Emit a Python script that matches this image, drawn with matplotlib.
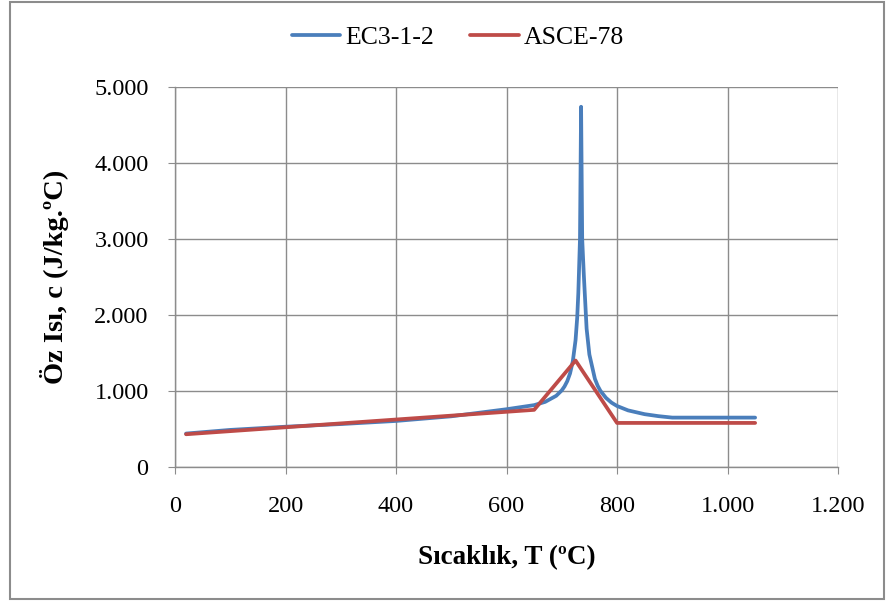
import matplotlib
matplotlib.use("Agg")
import matplotlib.pyplot as plt
from matplotlib.patches import Rectangle
from matplotlib.ticker import FuncFormatter

# temperature (C) and specific heat (J/kg.C)
ec3_T = [20, 100, 200, 300, 400, 500, 600, 650, 670, 690, 700, 705, 710, 715, 720, 725, 728,
         730, 733, 735, 737, 740, 745, 750, 760, 765, 770, 780, 790, 800, 820, 850, 875, 900, 1050]
ec3_c = [440, 488, 530, 565, 606, 667, 760, 814, 857, 937, 1008, 1060, 1130, 1231, 1390, 1670, 1970,
         2290, 3000, 4740, 3000, 2520, 1820, 1480, 1160, 1069, 1002, 910, 847, 803, 745, 695, 669, 650, 650]

asce_T = [20, 650, 725, 800, 1050]
asce_c = [431, 752, 1401, 580, 580]

x_ticks = [0, 200, 400, 600, 800, 1000, 1200]
y_ticks = [0, 1000, 2000, 3000, 4000, 5000]

plt.rcParams['font.family'] = ['Liberation Serif', 'DejaVu Serif']

W, H = 888, 603
fig = plt.figure(figsize=(W / 100, H / 100), dpi=100)
ax = fig.add_axes([175 / W, 1 - 467 / H, (838 - 175) / W, (467 - 87) / H])

ax.plot(ec3_T, ec3_c, color='#4A7EBB', lw=2.7, label='EC3-1-2', solid_capstyle='round')
ax.plot(asce_T, asce_c, color='#BE4B48', lw=2.7, label='ASCE-78', solid_capstyle='round')

ax.set_xlim(0, 1200)
ax.set_ylim(0, 5000)
ax.set_xticks(x_ticks)
ax.set_yticks(y_ticks)

# Turkish thousands separator
fmt = FuncFormatter(lambda v, p: f"{int(v):,}".replace(",", "."))
ax.xaxis.set_major_formatter(fmt)
ax.yaxis.set_major_formatter(fmt)

ax.grid(True, color='#8c8c8c', lw=1.0)
ax.set_axisbelow(True)
for s in ['top', 'right']:
    ax.spines[s].set_visible(False)
for s in ['left', 'bottom']:
    ax.spines[s].set_color('#8c8c8c')
    ax.spines[s].set_linewidth(1.0)
ax.tick_params(direction='out', length=5, color='#8c8c8c', labelsize=17.5)
ax.tick_params(axis='x', pad=16)
ax.tick_params(axis='y', pad=14)

ax.set_xlabel('Sıcaklık, T (ºC)', fontsize=19.5, fontweight='bold')
ax.set_ylabel('Öz Isı, c (J/kg.ºC)', fontsize=20.5, fontweight='bold')
ax.xaxis.set_label_coords(0.5, -(545 - 467) / (467 - 87), transform=ax.transAxes)
ax.yaxis.set_label_coords(-(175 - 69) / (838 - 175), 0.5, transform=ax.transAxes)

fig.legend(loc='center', bbox_to_anchor=(458 / W, 1 - 38 / H), ncol=2, frameon=False,
           fontsize=18.5, handlelength=1.9, handletextpad=0.2, columnspacing=1.4)

fig.patches.append(Rectangle((10 / W, 1 - 599 / H), (884 - 10) / W, (599 - 2) / H,
                             transform=fig.transFigure, fill=False,
                             edgecolor='#8c8c8c', lw=1.5))

fig.savefig('out.png', dpi=100)
